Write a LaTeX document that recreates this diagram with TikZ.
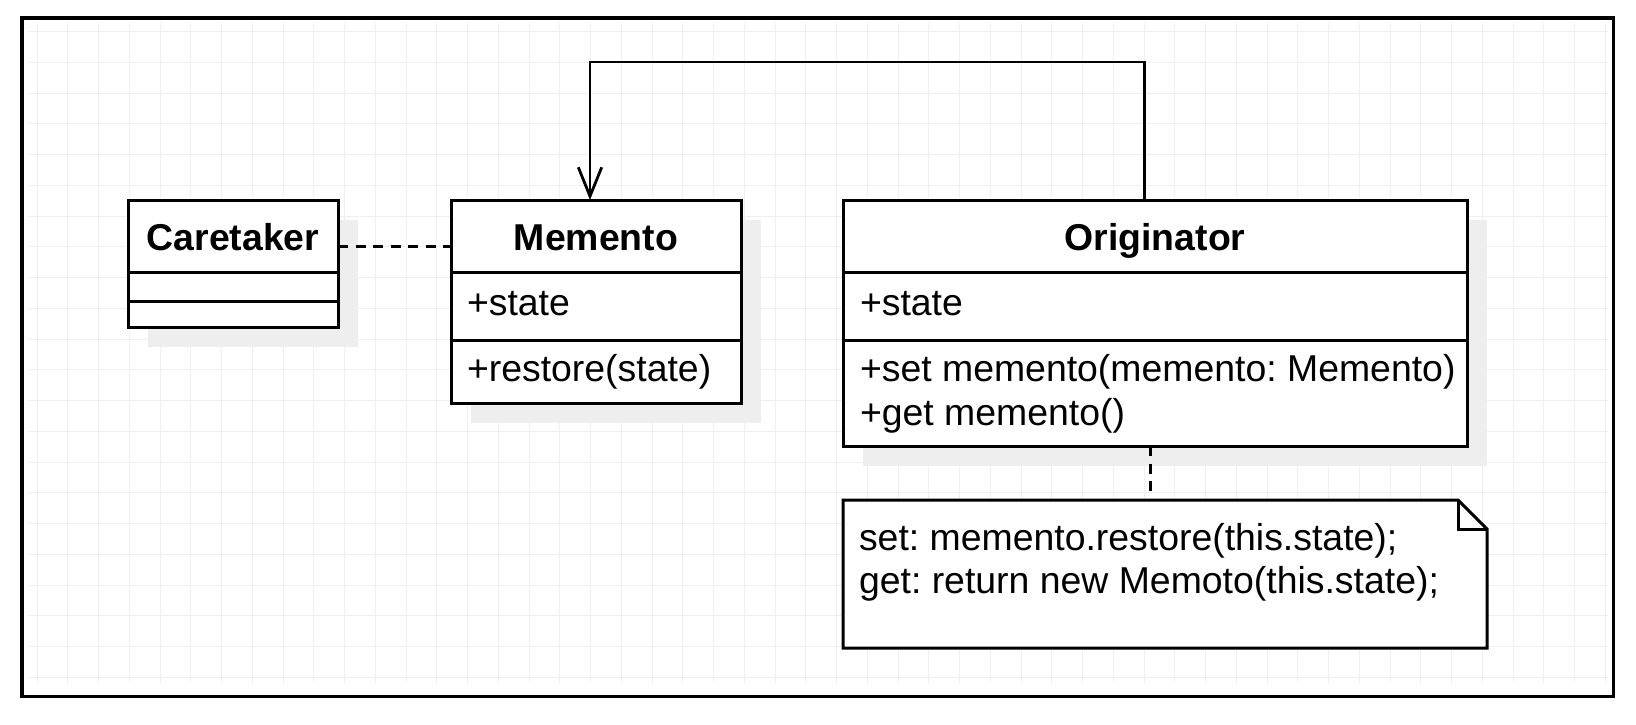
\documentclass[tikz,border=0pt]{standalone}
\usepackage{fontspec}
\setmainfont{Liberation Sans}
\usetikzlibrary{arrows.meta,shadows}
\definecolor{gridgray}{RGB}{240,240,240}
\definecolor{shadowgray}{RGB}{238,238,238}
\newcommand\umlfont{\fontsize{18.7pt}{22.4pt}\selectfont\frenchspacing}
\begin{document}
\begin{tikzpicture}[x=0.5pt,y=-0.5pt,
  every node/.style={font=\umlfont, inner sep=0pt, outer sep=0pt},
  classbox/.style={draw, line width=1.5pt, fill=white, anchor=north west,
    drop shadow={shadow xshift=10pt, shadow yshift=-10pt, fill=shadowgray, opacity=1}},
  notebox/.style={anchor=north west},
  notepath/.style={draw, line width=1.5pt, fill=white, line join=miter},
  divider/.style={line width=1.5pt},
  headtext/.style={anchor=base, font=\umlfont\bfseries},
  membertext/.style={anchor=base west},
  depline/.style={line width=1.5pt, dash pattern=on 5pt off 3.75pt},
  assoc/.style={line width=1.4pt, -{Straight Barb[length=14.5pt, width=11.7pt]}},
  gridline/.style={draw=gridgray, line width=0.5pt}
]
\useasboundingbox (0,0) rectangle (1636,724);
% grid
\foreach \i in {0,...,51} \draw[gridline] ({37+30.75*\i},23) -- ({37+30.75*\i},683);
\foreach \j in {0,...,21} \draw[gridline] (28,{31.7+30.75*\j}) -- (1608,{31.7+30.75*\j});
% frame
\draw[line width=1.9pt] (22,18) rectangle (1613.5,696.5);

% classes
\node[classbox, minimum width=105pt, minimum height=63.5pt] (care) at (128,200) {};
\node[classbox, minimum width=145pt, minimum height=101.5pt] (mem) at (451,200) {};
\node[classbox, minimum width=312pt, minimum height=123pt] (orig) at (843,200) {};

% dividers
\draw[divider] ([yshift=-36.25pt]care.north west) -- ([yshift=-36.25pt]care.north east);
\draw[divider] ([yshift=-50.75pt]care.north west) -- ([yshift=-50.75pt]care.north east);
\draw[divider] ([yshift=-36.25pt]mem.north west) -- ([yshift=-36.25pt]mem.north east);
\draw[divider] ([yshift=-70pt]mem.north west) -- ([yshift=-70pt]mem.north east);
\draw[divider] ([yshift=-36.25pt]orig.north west) -- ([yshift=-36.25pt]orig.north east);
\draw[divider] ([yshift=-70pt]orig.north west) -- ([yshift=-70pt]orig.north east);

% texts
\node[headtext] (careT) at (233,250) {Caretaker};
\node[headtext] (memT) at (596,250) {Memento};
\node[headtext] (origT) at (1155,250) {Originator};
\node[membertext] (memA) at (467,315) {+state};
\node[membertext] (memM) at (467,381.7) {+restore(state)};
\node[membertext] (origA) at (860,315) {+state};
\node[membertext] (origM1) at (860,381.7) {+set memento(memento: Memento)};
\node[membertext] (origM2) at (860,425) {+get memento()};

% note
\node[notebox, minimum width=322pt, minimum height=74pt] (note) at (843,500) {};
\draw[notepath] (note.north west) -- ([xshift=-14.5pt]note.north east) -- ([yshift=-14.5pt]note.north east) -- (note.south east) -- (note.south west) -- cycle;
\draw[notepath, fill=none] ([xshift=-14.5pt]note.north east) -- ([xshift=-14.5pt,yshift=-14.5pt]note.north east) -- ([yshift=-14.5pt]note.north east);
\node[membertext] (noteL1) at (859,550) {set: memento.restore(this.state);};
\node[membertext] (noteL2) at (859,593.3) {get: return new Memoto(this.state);};

% connectors
\coordinate (bend) at (800,62);
\draw[assoc] ([xshift=-5.25pt]orig.north) |- (bend) -| ([xshift=-3pt]mem.north);
\draw[depline] ([yshift=-23pt]care.north east) -- ([yshift=-23pt]mem.north west);
\path (orig.south) ++(-2.5pt,0pt) coordinate (od);
\draw[depline] (od) -- (od |- note.north);
\end{tikzpicture}
\end{document}
